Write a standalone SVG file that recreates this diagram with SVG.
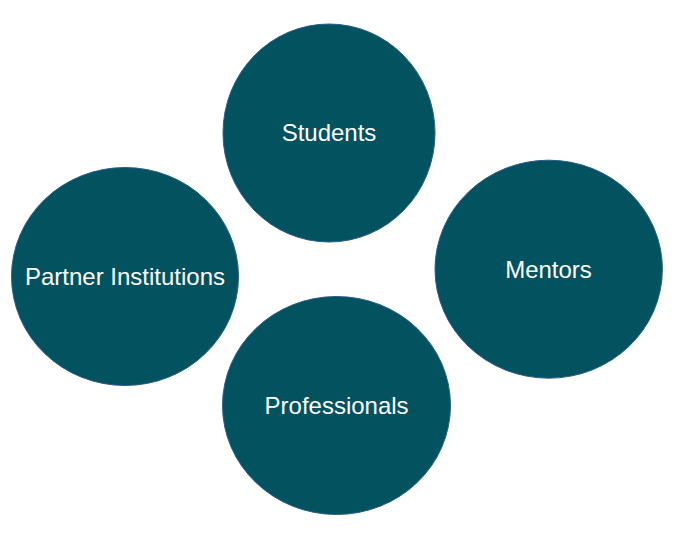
<svg xmlns="http://www.w3.org/2000/svg" width="677" height="536" viewBox="0 0 677 536">
<style>
.node ellipse{fill:#03525f;stroke:#2b5c8c;stroke-width:1}
.node text{fill:#ffffff;font-family:"Liberation Sans",Arial,sans-serif;font-size:24px;text-anchor:middle}
</style>
<rect width="677" height="536" fill="#ffffff"/>
<g id="connectors"></g>
<g id="students" class="node">
<ellipse cx="329" cy="133" rx="106" ry="109"/>
<text x="329" y="141">Students</text>
</g>
<g id="partner-institutions" class="node">
<ellipse cx="125" cy="276.5" rx="113.5" ry="109"/>
<text x="125" y="285">Partner Institutions</text>
</g>
<g id="mentors" class="node">
<ellipse cx="548.7" cy="269.2" rx="113.7" ry="109"/>
<text x="548.5" y="277.7">Mentors</text>
</g>
<g id="professionals" class="node">
<ellipse cx="336.5" cy="405.5" rx="114" ry="109"/>
<text x="336.6" y="414">Professionals</text>
</g>
</svg>
